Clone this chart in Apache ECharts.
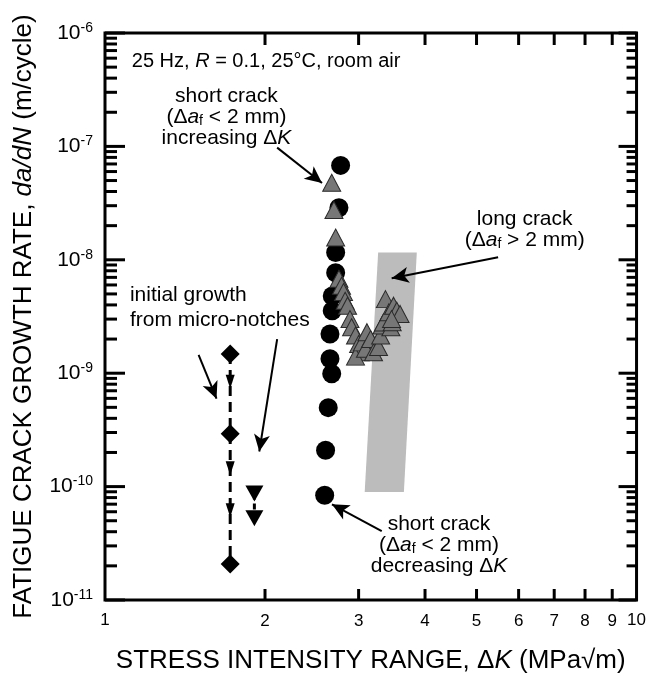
<!DOCTYPE html>
<html><head><meta charset="utf-8">
<script src="https://cdn.jsdelivr.net/npm/echarts@6/dist/echarts.min.js"></script>
<style>html,body{margin:0;padding:0;background:#fff}#c{width:649px;height:679px}</style>
</head><body><div id="c"></div>
<script>
const FONT = '"Liberation Sans", Arial, Helvetica, sans-serif';

// ---- data (ΔK in MPa√m, da/dN in m/cycle) ----
const notchDiamonds = [[1.72,1.48e-9],[1.72,2.93e-10],[1.72,2.08e-11]];
const notchDiamondArrows = [[1.72,8.4e-10],[1.72,1.45e-10],[1.72,6.2e-11]];
const notchTriangles = [[1.91,8.7e-11],[1.91,5.25e-11]];
const shortCrackDecreasing = [
  [2.775,6.8e-8],[2.755,2.88e-8],[2.716,1.16e-8],[2.716,7.7e-9],[2.676,4.8e-9],[2.676,3.56e-9],
  [2.65,2.22e-9],[2.65,1.34e-9],[2.67,9.9e-10],[2.63,4.97e-10],[2.60,2.09e-10],[2.59,8.4e-11]
];
const shortCrackIncreasing = [
  [2.67,4.78e-8],[2.696,2.75e-8],[2.716,1.57e-8],
  [2.755,6.8e-9],[2.786,5.9e-9],[2.81,5.2e-9],[2.83,4.35e-9],[2.86,3.94e-9],[2.89,3.0e-9],
  [2.91,2.54e-9],[2.96,2.15e-9],[3.0,1.81e-9],[3.02,1.53e-9],[2.96,1.4e-9],[3.05,1.87e-9],
  [3.09,1.64e-9],[3.11,2.3e-9],[3.16,2.0e-9],[3.2,1.53e-9],[3.27,1.7e-9],[3.3,2.15e-9],
  [3.32,2.63e-9],[3.34,2.8e-9],[3.37,4.5e-9],[3.42,3.44e-9],[3.45,2.54e-9],[3.47,2.81e-9],
  [3.49,3.94e-9],[3.54,3.56e-9],[3.59,3.33e-9],[3.46,3.0e-9]
];
const longCrackBand = [[3.265,1.16e-8],[3.86,1.16e-8],[3.65,8.98e-11],[3.08,8.98e-11]];
const xTickValues = [2,3,4,5,6,7,8,9];
const yDecades = [1e-11,1e-10,1e-9,1e-8,1e-7,1e-6];
const yMinorMultipliers = [2,3,4,5,6,7,8,9];
const arrowSegments = [
  [[2.108,9.76e-8],[2.56,4.75e-8]],
  [[5.49,1.054e-8],[3.462,6.89e-9]],
  [[1.50,1.45e-9],[1.621,5.96e-10]],
  [[2.108,2.0e-9],[1.951,2.04e-10]],
  [[3.316,4.04e-11],[2.673,6.98e-11]]
];

// tick table built from the tick arrays
const tickData = [];
xTickValues.forEach(v => tickData.push([v, 1e-9, 0]));
yDecades.forEach(d => tickData.push([2, d, 1]));
yDecades.slice(0, -1).forEach(d => yMinorMultipliers.forEach(m => tickData.push([2, d * m, 2])));

function mkRich(fs, lh) {
  return {
    n: {fontFamily: FONT, fontSize: fs, color: '#000', lineHeight: lh},
    i: {fontFamily: FONT, fontSize: fs, color: '#000', lineHeight: lh, fontStyle: 'italic'},
    sub: {fontFamily: FONT, fontSize: Math.round(fs * 0.65), color: '#000', lineHeight: lh, padding: [8, 0, 0, 0]}
  };
}
function note(coord, text, align, fs, lh) {
  return {
    coord: coord, symbol: 'circle', symbolSize: 1, itemStyle: {color: 'rgba(0,0,0,0)'},
    label: {show: true, position: 'inside', formatter: text, align: align || 'center', verticalAlign: 'middle', rich: mkRich(fs || 21, lh || 21)}
  };
}

const chart = echarts.init(document.getElementById('c'), null, {renderer: 'canvas'});
const option = {
  animation: false,
  backgroundColor: '#fff',
  grid: {left: 105, right: 10, top: 33, bottom: 77, show: true, borderColor: '#000', borderWidth: 3, backgroundColor: 'transparent'},
  xAxis: {
    type: 'log', logBase: 10, min: 1, max: 10,
    axisLine: {show: false}, axisTick: {show: false}, splitLine: {show: false}, minorTick: {show: false},
    axisLabel: {color: '#000', fontFamily: FONT, fontSize: 17, margin: 12, formatter: v => String(Math.round(v))},
    name: '{n|STRESS INTENSITY RANGE, Δ}{i|K}{n| (MPa√m)}', nameLocation: 'middle', nameGap: 48,
    nameTextStyle: {rich: {
      n: {fontFamily: FONT, fontSize: 26, color: '#000'},
      i: {fontFamily: FONT, fontSize: 26, color: '#000', fontStyle: 'italic'}
    }}
  },
  yAxis: {
    type: 'log', logBase: 10, min: 1e-11, max: 1e-6,
    axisLine: {show: false}, axisTick: {show: false}, splitLine: {show: false}, minorTick: {show: false},
    axisLabel: {
      margin: 12, formatter: v => '{b|10}{s|' + Math.round(Math.log10(v)) + '}',
      rich: {
        b: {fontFamily: FONT, fontSize: 21, color: '#000'},
        s: {fontFamily: FONT, fontSize: 14, color: '#000', padding: [0, 0, 10, 0]}
      }
    },
    name: '{n|FATIGUE CRACK GROWTH RATE, }{i|da/dN}{n| (m/cycle)}', nameLocation: 'middle', nameGap: 68, nameRotate: 90,
    nameTextStyle: {rich: {
      n: {fontFamily: FONT, fontSize: 26, color: '#000'},
      i: {fontFamily: FONT, fontSize: 26, color: '#000', fontStyle: 'italic'}
    }}
  },
  series: [
    {
      type: 'custom', name: 'long crack band', z: 1, silent: true,
      data: longCrackBand,
      renderItem: function (params, api) {
        if (params.dataIndex !== 0) return null;
        const pts = longCrackBand.map(p => api.coord(p));
        return {type: 'polygon', shape: {points: pts}, style: {fill: '#bcbcbc'}};
      }
    },
    {
      type: 'scatter', name: 'short crack decreasing ΔK', z: 3,
      data: shortCrackDecreasing, symbol: 'circle', symbolSize: 19,
      itemStyle: {color: '#000', opacity: 1},
      markLine: {
        silent: true, symbol: ['none', 'arrow'], symbolSize: [12, 17],
        label: {show: false},
        lineStyle: {color: '#000', width: 2, type: 'solid', opacity: 1},
        data: arrowSegments.map(s => [{coord: s[0]}, {coord: s[1]}])
      },
      markPoint: {
        silent: true,
        data: [
          note([1.123, 5.56e-7], '{n|25 Hz, }{i|R}{n| = 0.1, 25°C, room air}', 'left', 20, 22),
          note([1.692, 1.81e-7], '{n|short crack}\n{n|(Δ}{i|a}{sub|f}{n| < 2 mm)}\n{n|increasing Δ}{i|K}'),
          note([6.16, 1.86e-8], '{n|long crack}\n{n|(Δ}{i|a}{sub|f}{n| > 2 mm)}'),
          note([1.114, 3.76e-9], '{n|initial growth}\n{n|from micro-notches}', 'left', 21, 25),
          note([4.25, 3.04e-11], '{n|short crack}\n{n|(Δ}{i|a}{sub|f}{n| < 2 mm)}\n{n|decreasing Δ}{i|K}')
        ]
      }
    },
    {
      type: 'scatter', name: 'short crack increasing ΔK', z: 4,
      data: shortCrackIncreasing, symbol: 'triangle', symbolSize: [18, 17],
      itemStyle: {color: '#777777', borderColor: '#2a2a2a', borderWidth: 1, opacity: 1}
    },
    {
      type: 'line', name: 'micro-notch path', z: 3,
      data: notchDiamonds, symbol: 'diamond', symbolSize: 19, showSymbol: true,
      itemStyle: {color: '#000', opacity: 1},
      lineStyle: {color: '#000', width: 3, type: [10, 6]}
    },
    {
      type: 'scatter', name: 'micro-notch direction', z: 4,
      data: notchDiamondArrows, symbol: 'triangle', symbolRotate: 180, symbolSize: [9, 14],
      itemStyle: {color: '#000', opacity: 1}
    },
    {
      type: 'line', name: 'micro-notch 2', z: 3,
      data: notchTriangles, symbol: 'triangle', symbolRotate: 180, symbolSize: [18, 16], showSymbol: true,
      itemStyle: {color: '#000', opacity: 1},
      lineStyle: {color: '#000', width: 3, type: [6, 4]}
    },
    {
      type: 'custom', name: 'ticks', z: 10, silent: true,
      data: tickData,
      renderItem: function (params, api) {
        const cs = params.coordSys;
        const kind = api.value(2);
        const ls = {stroke: '#000', lineWidth: 3};
        const ch = [];
        if (kind === 0) {
          const px = api.coord([api.value(0), api.value(1)])[0];
          const b = cs.y + cs.height, t = cs.y;
          ch.push({type: 'line', shape: {x1: px, y1: b, x2: px, y2: b - 11}, style: ls});
          ch.push({type: 'line', shape: {x1: px, y1: t, x2: px, y2: t + 12}, style: ls});
          ch.push({type: 'text', x: px, y: b + 21, style: {text: String(api.value(0)), fill: '#000', font: '17px ' + FONT, align: 'center', verticalAlign: 'middle'}});
        } else {
          const py = api.coord([api.value(0), api.value(1)])[1];
          const l = cs.x, r = cs.x + cs.width;
          const ll = kind === 1 ? 20 : 12, rl = kind === 1 ? 18 : 10;
          ch.push({type: 'line', shape: {x1: l, y1: py, x2: l + ll, y2: py}, style: ls});
          ch.push({type: 'line', shape: {x1: r, y1: py, x2: r - rl, y2: py}, style: ls});
        }
        return {type: 'group', children: ch};
      }
    }
  ]
};
chart.setOption(option);
</script>
</body></html>
